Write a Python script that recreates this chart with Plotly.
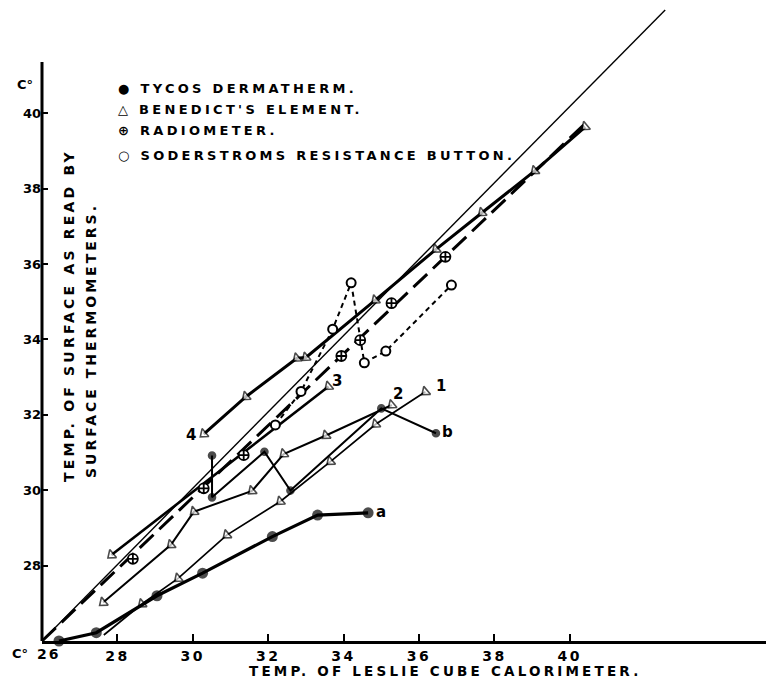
import plotly.graph_objects as go

# ---------------- data ----------------
ident_x = [26.0, 42.53]
ident_y = [26.0, 42.74]

tycos_a_x = [26.45, 27.44, 29.05, 30.26, 32.11, 33.31, 34.65]
tycos_a_y = [26.0, 26.22, 27.2, 27.8, 28.77, 29.34, 29.4]

tycos_b_x = [30.51, 30.51, 31.9, 32.59, 35.0, 36.45]
tycos_b_y = [30.92, 29.81, 31.02, 29.99, 32.17, 31.51]

bene1_x = [27.64, 28.65, 29.61, 30.9, 32.32, 33.65, 34.85, 36.17]
bene1_y = [26.16, 26.98, 27.66, 28.81, 29.7, 30.76, 31.75, 32.61]

bene2_x = [27.62, 29.42, 30.03, 31.57, 32.41, 33.53, 35.28]
bene2_y = [27.02, 28.55, 29.43, 29.98, 30.96, 31.45, 32.26]

bene3_x = [27.84, 33.6]
bene3_y = [28.28, 32.75]

bene4_x = [30.29, 31.41, 32.76, 33.0, 34.84, 36.45, 37.67, 39.07, 40.41]
bene4_y = [31.49, 32.48, 33.5, 33.52, 35.04, 36.39, 37.36, 38.47, 39.64]

radio_line_x = [26.0, 40.37]
radio_line_y = [26.0, 39.69]
radio_x = [28.41, 30.29, 31.35, 33.94, 34.44, 35.27, 36.7]
radio_y = [28.18, 30.05, 30.93, 33.56, 33.98, 34.96, 36.19]

soder_x = [32.19, 32.87, 33.71, 34.2, 34.55, 35.12, 36.86]
soder_y = [31.73, 32.62, 34.27, 35.5, 33.38, 33.69, 35.44]

x_ticks = [28, 30, 32, 34, 36, 38, 40]
y_ticks = [28, 30, 32, 34, 36, 38, 40]
y_axis_top = 41.36

legend_items = ["● TYCOS DERMATHERM.", "△ BENEDICT'S ELEMENT.",
                "⊕ RADIOMETER.", "○ SODERSTROMS RESISTANCE BUTTON."]

# ---------------- figure geometry ----------------
# The page body has an 8px margin, so the figure is sized/offset to match the 774x678 view.
OFF = 8
W, H = 774 - OFF, 678 - OFF
ML, MB = 42 - OFF, 37
PW, PH = W - ML, H - MB          # plot area in px
PXU = 37.7                        # px per degree

def px(xp):   # page x -> paper x
    return (xp - OFF - ML) / PW

def py(yp):   # page y -> paper y
    return 1 - (yp - OFF) / PH

def spaced(t, s):
    return f'<span style="letter-spacing:{s}px">{t}</span>'

FONT = "DejaVu Sans"
K = "black"
TRI_ANGLE = 230

fig = go.Figure()

def add(x, y, width, dash="solid", symbol=None, msize=9, mline=1.6, first_marker=True):
    mode = "lines" if symbol is None else "lines+markers"
    kw = dict(x=x, y=y, mode=mode, line=dict(color=K, width=width, dash=dash),
              showlegend=False, hoverinfo="skip", cliponaxis=False)
    if symbol is not None:
        sizes = [msize] * len(x)
        if not first_marker:
            sizes[0] = 0
        m = dict(symbol=symbol, size=sizes, color=K, line=dict(color=K, width=mline))
        if symbol.startswith("triangle"):
            m["angle"] = TRI_ANGLE
            m["color"] = "white"
        kw["marker"] = m
    fig.add_trace(go.Scatter(**kw))

# identity line (thin)
add(ident_x, ident_y, 1.4)
# radiometer fitted line (long dashes)
add(radio_line_x, radio_line_y, 3, dash="19px,8px")
# benedict lines
add(bene4_x, bene4_y, 3, symbol="triangle-up", msize=9)
add(bene3_x, bene3_y, 2.6, symbol="triangle-up", msize=9)
add(bene2_x, bene2_y, 2.0, symbol="triangle-up", msize=9)
add(bene1_x, bene1_y, 1.7, symbol="triangle-up", msize=9, first_marker=False)
# soderstrom (short dashes, open circles)
fig.add_trace(go.Scatter(x=soder_x, y=soder_y, mode="lines+markers",
                         line=dict(color=K, width=2, dash="5px,4px"),
                         marker=dict(symbol="circle", size=9, color="white",
                                     line=dict(color=K, width=2)),
                         showlegend=False, hoverinfo="skip"))
# radiometer points
fig.add_trace(go.Scatter(x=radio_x, y=radio_y, mode="markers",
                         marker=dict(symbol="circle-cross", size=10, color="white",
                                     line=dict(color=K, width=1.8)),
                         showlegend=False, hoverinfo="skip"))
# tycos
add(tycos_b_x, tycos_b_y, 2.0, symbol="circle", msize=7)
add(tycos_a_x, tycos_a_y, 3.2, symbol="circle", msize=11, mline=0)

# series labels
labels = [("1", bene1_x[-1], bene1_y[-1], 16, 6),
          ("2", bene2_x[-1], bene2_y[-1], 6, 11),
          ("3", bene3_x[-1], bene3_y[-1], 8, 6),
          ("4", bene4_x[0], bene4_y[0], -13, -1),
          ("a", tycos_a_x[-1], tycos_a_y[-1], 13, 1),
          ("b", tycos_b_x[-1], tycos_b_y[-1], 12, 1)]
for t, x, y, dx, dy in labels:
    fig.add_annotation(x=x, y=y, text=t, showarrow=False, xshift=dx, yshift=dy,
                       font=dict(family=FONT, size=15, color=K, weight="bold"))

# y axis line (shorter than plot height)
fig.add_shape(type="line", xref="paper", x0=0, x1=0, yref="y", y0=26, y1=y_axis_top,
              line=dict(color=K, width=3))

# axis corner labels
fig.add_annotation(xref="paper", x=px(48), yref="paper", y=py(654), text=spaced("26", 2),
                   showarrow=False, xanchor="center", yanchor="middle",
                   font=dict(family=FONT, size=14, color=K, weight="bold"))
fig.add_annotation(xref="paper", x=px(10), yref="paper", y=py(653), text="C°",
                   showarrow=False, xanchor="left", yanchor="middle",
                   font=dict(family=FONT, size=13, color=K, weight="bold"))
fig.add_annotation(xref="paper", x=px(25), yref="paper", y=py(84), text="C°",
                   showarrow=False, xanchor="center", yanchor="middle",
                   font=dict(family=FONT, size=13, color=K, weight="bold"))

# axis titles
fig.add_annotation(xref="paper", x=px(446), yref="paper", y=py(671),
                   text=spaced("TEMP. OF LESLIE CUBE CALORIMETER.", 3.2), showarrow=False,
                   xanchor="center", yanchor="middle",
                   font=dict(family=FONT, size=13.5, color=K, weight="bold"))
fig.add_annotation(xref="paper", x=px(69), yref="paper", y=py(316),
                   text=spaced("TEMP. OF SURFACE AS READ BY", 3.2), textangle=-90,
                   showarrow=False, xanchor="center", yanchor="middle",
                   font=dict(family=FONT, size=14, color=K, weight="bold"))
fig.add_annotation(xref="paper", x=px(91), yref="paper", y=py(341),
                   text=spaced("SURFACE THERMOMETERS.", 3), textangle=-90,
                   showarrow=False, xanchor="center", yanchor="middle",
                   font=dict(family=FONT, size=14, color=K, weight="bold"))

# legend block
legend_rows = [88, 109, 130, 155]
for t, yr in zip(legend_items, legend_rows):
    fig.add_annotation(xref="paper", x=px(116), yref="paper", y=py(yr),
                       text=spaced(t, 3.3), showarrow=False,
                       xanchor="left", yanchor="middle",
                       font=dict(family=FONT, size=13, color=K, weight="bold"))

fig.update_layout(
    width=W, height=H,
    margin=dict(l=ML, r=0, t=0, b=MB, pad=0),
    paper_bgcolor="white", plot_bgcolor="white",
    xaxis=dict(range=[26, 26 + PW / PXU], showgrid=False, zeroline=False,
               showline=True, linecolor=K, linewidth=3,
               tickmode="array", tickvals=x_ticks,
               ticktext=[spaced(str(v), 2.5) for v in x_ticks],
               ticks="inside", ticklen=7, tickwidth=2, tickcolor=K,
               tickfont=dict(family=FONT, size=14, color=K, weight="bold")),
    yaxis=dict(range=[26, 26 + PH / PXU], showgrid=False, zeroline=False,
               showline=False,
               tickmode="array", tickvals=y_ticks, ticktext=[str(v) for v in y_ticks],
               ticks="inside", ticklen=6, tickwidth=2, tickcolor=K,
               tickfont=dict(family=FONT, size=13, color=K, weight="bold")),
)

fig.write_html("out.html")
